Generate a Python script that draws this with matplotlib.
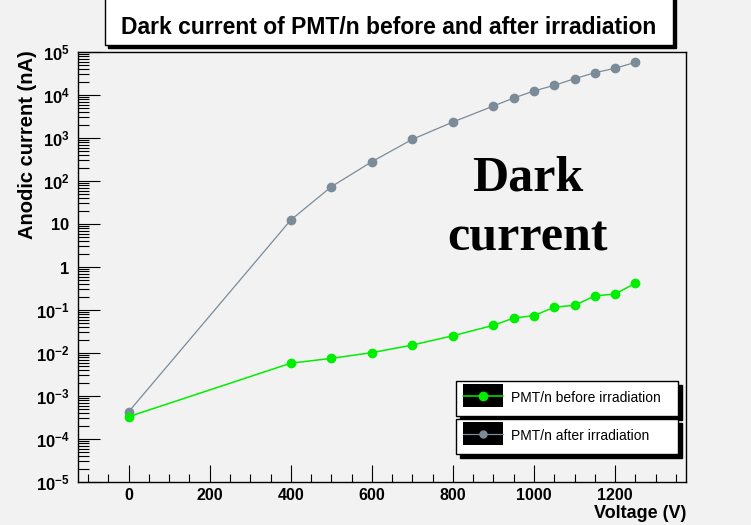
import matplotlib
matplotlib.use("Agg")
import matplotlib.pyplot as plt
from matplotlib.patches import Rectangle
from matplotlib.lines import Line2D
from matplotlib.ticker import FixedLocator, LogLocator, MultipleLocator, NullFormatter

# data
voltage_before = [0, 400, 500, 600, 700, 800, 900, 950, 1000, 1050, 1100, 1150, 1200, 1250]
current_before = [3.3e-4, 5.8e-3, 7.5e-3, 0.0102, 0.0153, 0.0252, 0.044, 0.065, 0.074,
                  0.116, 0.129, 0.212, 0.236, 0.418]
voltage_after = [0, 400, 500, 600, 700, 800, 900, 950, 1000, 1050, 1100, 1150, 1200, 1250]
current_after = [4.3e-4, 12.4, 73.6, 281, 933, 2355, 5550, 8520, 12400, 16800, 23900,
                 33000, 41800, 57500]

x_ticks = [0, 200, 400, 600, 800, 1000, 1200]
y_ticks = [1e-5, 1e-4, 1e-3, 1e-2, 1e-1, 1, 10, 1e2, 1e3, 1e4, 1e5]
y_tick_labels = ["10^{-5}", "10^{-4}", "10^{-3}", "10^{-2}", "10^{-1}", "1", "10",
                 "10^{2}", "10^{3}", "10^{4}", "10^{5}"]

labels = ["PMT/n before irradiation", "PMT/n after irradiation"]
title = "Dark current of PMT/n before and after irradiation"

BG = "#f2f2f2"
GREEN = "#00ee00"
GRAY = "#7b8b98"

plt.rcParams["font.family"] = ["Liberation Sans", "DejaVu Sans"]
plt.rcParams["mathtext.fontset"] = "custom"
plt.rcParams["mathtext.rm"] = "Liberation Sans:bold"
plt.rcParams["mathtext.bf"] = "Liberation Sans:bold"

W, H = 751, 525
fig = plt.figure(figsize=(W / 100, H / 100), dpi=100, facecolor=BG)
ax = fig.add_axes([78 / W, 1 - 482 / H, (686 - 78) / W, (482 - 52) / H])
ax.set_facecolor(BG)

ax.plot(voltage_after, current_after, color=GRAY, lw=0.9, marker="o", ms=6,
        mec=GRAY, mfc=GRAY, zorder=3)
ax.plot(voltage_before, current_before, color=GREEN, lw=1.1, marker="o", ms=6,
        mec=GREEN, mfc=GREEN, zorder=4)

ax.set_yscale("log")
ax.set_xlim(-125, 1375)
ax.set_ylim(1e-5, 1e5)

ax.xaxis.set_major_locator(FixedLocator(x_ticks))
ax.xaxis.set_minor_locator(MultipleLocator(50))
ax.set_xticklabels([str(v) for v in x_ticks], fontweight="bold", fontsize=11.5)

ax.yaxis.set_major_locator(FixedLocator(y_ticks))
ax.yaxis.set_minor_locator(LogLocator(base=10, subs=range(2, 10), numticks=20))
ax.yaxis.set_minor_formatter(NullFormatter())
ax.set_yticklabels(["$\\mathbf{" + s + "}$" for s in y_tick_labels], fontsize=12)

ax.tick_params(which="both", direction="in", top=False, right=False, color="black")
ax.tick_params(axis="x", which="major", length=12, width=0.8, pad=4)
ax.tick_params(axis="x", which="minor", length=6, width=0.8)
ax.tick_params(axis="y", which="major", length=16, width=0.8, pad=6)
ax.tick_params(axis="y", which="minor", length=8, width=0.8)
for sp in ax.spines.values():
    sp.set_linewidth(1.0)

ax.set_xlabel("Voltage (V)", loc="right", fontweight="bold", fontsize=13)
ax.xaxis.set_label_coords(1.0, -0.053)
ax.set_ylabel("Anodic current (nA)", loc="top", fontweight="bold", fontsize=14.5)
ax.yaxis.set_label_coords(-0.067, 1.005)

# big annotation
serif = ["Liberation Serif", "DejaVu Serif"]
ax.text(0.74, 0.679, "Dark", transform=ax.transAxes, ha="center", va="baseline",
        fontsize=36, fontweight="bold", family=serif)
ax.text(0.74, 0.5395, "current", transform=ax.transAxes, ha="center", va="baseline",
        fontsize=36, fontweight="bold", family=serif)


# title box with shadow, ROOT style
def fig_box(x0, y0, x1, y1, shadow=3):
    fx0, fx1 = x0 / W, x1 / W
    fy0, fy1 = 1 - y1 / H, 1 - y0 / H
    fig.patches.append(Rectangle((fx0 + shadow / W, fy0 - shadow / H), fx1 - fx0, fy1 - fy0,
                                 transform=fig.transFigure, facecolor="black",
                                 edgecolor="black", zorder=5))
    fig.patches.append(Rectangle((fx0, fy0), fx1 - fx0, fy1 - fy0,
                                 transform=fig.transFigure, facecolor="white",
                                 edgecolor="black", lw=1.0, zorder=6))


fig_box(105, -5, 673, 45)
fig.text((105 + 673) / 2 / W, 1 - 27 / H, title, ha="center", va="center",
         fontsize=16.5, fontweight="bold", zorder=7)

# legend as two stacked boxes
entries = [(labels[0], GREEN, 1.1, 6, 381, 416), (labels[1], GRAY, 0.9, 5, 419, 454)]
for text, col, lw, ms, y0, y1 in entries:
    fig_box(456, y0, 678, y1, shadow=4)
    fig.patches.append(Rectangle((463 / W, 1 - (y0 + 26) / H), 40 / W, 23 / H,
                                 transform=fig.transFigure, facecolor="black",
                                 edgecolor="none", zorder=7))
    ym = 1 - (y0 + 14.5) / H
    fig.lines.append(Line2D([463 / W, 503 / W], [ym, ym], transform=fig.transFigure,
                            color=col, lw=lw, zorder=8))
    fig.lines.append(Line2D([483 / W], [ym], transform=fig.transFigure, color=col,
                            marker="o", ms=ms, zorder=9))
    fig.text(511 / W, 1 - (y0 + 17) / H, text, ha="left", va="center", fontsize=10, zorder=9)

fig.savefig("out.png", dpi=100, facecolor=BG)
